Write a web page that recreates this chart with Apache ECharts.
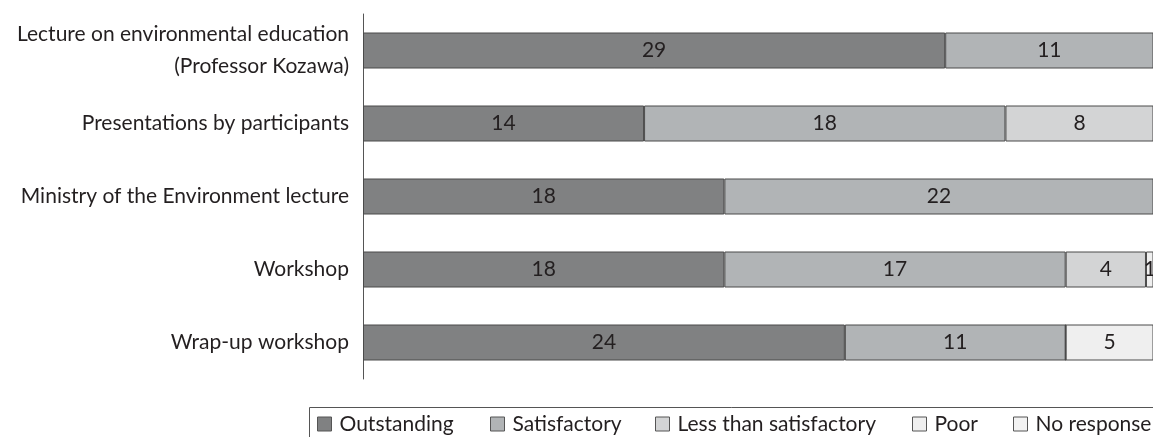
<!DOCTYPE html>
<html>
<head>
<meta charset="utf-8">
<script src="https://cdn.jsdelivr.net/npm/echarts@6/dist/echarts.min.js"></script>
<style>
  html, body { margin: 0; padding: 0; background: #fff; }
  #chart { width: 1153px; height: 437px; }
</style>
</head>
<body>
<div id="chart"></div>
<script>
// categories top to bottom
var categories = [
  'Lecture on environmental education\n(Professor Kozawa)',
  'Presentations by participants',
  'Ministry of the Environment lecture',
  'Workshop',
  'Wrap-up workshop'
];
var seriesNames = ['Outstanding', 'Satisfactory', 'Less than satisfactory', 'Poor', 'No response'];
var outstanding = [29, 14, 18, 18, 24];
var satisfactory = [11, 18, 22, 17, 11];
var lessThanSatisfactory = [0, 8, 0, 4, 0];
var poor = [0, 0, 0, 1, 5];
var noResponse = [0, 0, 0, 0, 0];

var values = [outstanding, satisfactory, lessThanSatisfactory, poor, noResponse];
var colors = ['#808182', '#b1b4b6', '#d3d4d5', '#efefef', '#f2f2f2'];
var legendLeft = [317, 490, 655, 912, 1013];
var fontFamily = 'Lato, "Open Sans", sans-serif';

var chart = echarts.init(document.getElementById('chart'));

var series = seriesNames.map(function (name, i) {
  return {
    name: name,
    type: 'bar',
    stack: 'total',
    barWidth: 36,
    data: values[i],
    itemStyle: { color: colors[i], borderColor: '#4a4a4a', borderWidth: 1 },
    label: {
      show: true,
      position: 'inside',
      color: '#231f20',
      fontSize: 21,
      fontFamily: fontFamily,
      formatter: function (p) { return p.value ? p.value : ''; }
    },
    emphasis: { disabled: true }
  };
});

var legends = seriesNames.map(function (name, i) {
  return {
    data: [name],
    left: legendLeft[i],
    top: 413,
    padding: 0,
    itemWidth: 14,
    itemHeight: 14,
    itemGap: 8,
    icon: 'rect',
    itemStyle: { borderColor: '#555', borderWidth: 1 },
    textStyle: { fontSize: 21, color: '#231f20', fontFamily: fontFamily, lineHeight: 22, padding: [0, 0, 0, 3] },
    selectedMode: false
  };
});

var option = {
  animation: false,
  grid: { left: 363, top: 14, height: 365, right: 0 },
  xAxis: {
    type: 'value',
    min: 0,
    max: 39.35,   // chart is cut at the right edge of the picture
    show: false
  },
  yAxis: {
    type: 'category',
    inverse: true,
    data: categories,
    axisLine: { show: true, lineStyle: { color: '#555', width: 1 } },
    axisTick: { show: false },
    axisLabel: {
      margin: 14,
      fontSize: 21,
      color: '#231f20',
      fontFamily: fontFamily,
      lineHeight: 32
    }
  },
  legend: legends,
  graphic: [{
    type: 'rect',
    shape: { x: 309.5, y: 407.5, width: 900, height: 40 },
    style: { fill: 'none', stroke: '#555', lineWidth: 1 },
    silent: true
  }],
  series: series
};

chart.setOption(option);
</script>
</body>
</html>
